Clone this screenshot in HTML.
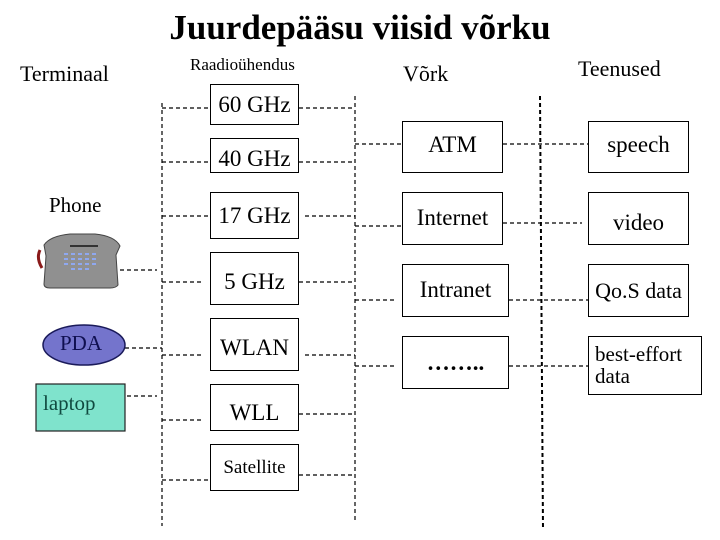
<!DOCTYPE html>
<html><head><meta charset="utf-8"><style>
body{margin:0;width:720px;height:540px;background:#fff;position:relative;overflow:hidden;font-family:"Liberation Serif",serif;color:#000}
.t{position:absolute;white-space:nowrap}
.b{position:absolute;border:1.5px solid #000;box-sizing:border-box;font-size:23px;display:flex;align-items:center;justify-content:center;background:#fff}
</style></head><body>
<svg width="720" height="540" style="position:absolute;left:0;top:0">
<g stroke="#000" stroke-width="1.2" stroke-dasharray="4,3" fill="none">
<line x1="162" y1="103" x2="162" y2="526"/>
<line x1="355" y1="96" x2="355" y2="522"/>
<line x1="540" y1="96" x2="543" y2="530" stroke-width="2"/>
<line x1="162" y1="108" x2="210" y2="108"/><line x1="299" y1="108" x2="355" y2="108"/>
<line x1="162" y1="162" x2="210" y2="162"/><line x1="299" y1="162" x2="355" y2="162"/>
<line x1="162" y1="216" x2="208" y2="216"/><line x1="305" y1="216" x2="355" y2="216"/>
<line x1="162" y1="282" x2="203" y2="282"/><line x1="299" y1="282" x2="355" y2="282"/>
<line x1="162" y1="355" x2="203" y2="355"/><line x1="305" y1="355" x2="355" y2="355"/>
<line x1="162" y1="420" x2="203" y2="420"/><line x1="299" y1="414" x2="355" y2="414"/>
<line x1="162" y1="480" x2="210" y2="480"/><line x1="299" y1="475" x2="355" y2="475"/>
<line x1="120" y1="270" x2="157" y2="270"/>
<line x1="125" y1="348" x2="162" y2="348"/>
<line x1="120" y1="396" x2="157" y2="396"/>
<line x1="355" y1="144" x2="402" y2="144"/><line x1="503" y1="144" x2="588" y2="144"/>
<line x1="355" y1="226" x2="402" y2="226"/><line x1="503" y1="223" x2="582" y2="223"/>
<line x1="355" y1="300" x2="395" y2="300"/><line x1="509" y1="300" x2="588" y2="300"/>
<line x1="355" y1="366" x2="395" y2="366"/><line x1="509" y1="366" x2="588" y2="366"/>
</g>
<path d="M40 250 Q36 258 42 268" stroke="#8a1a1a" stroke-width="3" fill="none"/>
<path d="M44 245 Q50 236 70 234 L95 234 Q115 236 120 246 L116 255 L118 285 Q116 288 110 288 L50 288 Q44 288 44 284 L46 256 Z" fill="#909090" stroke="#444" stroke-width="1"/>
<rect x="70" y="245" width="28" height="2" fill="#333"/>
<g fill="#8fa8f0">
<rect x="64" y="253" width="4" height="2"/><rect x="71" y="253" width="4" height="2"/><rect x="78" y="253" width="4" height="2"/><rect x="85" y="253" width="4" height="2"/><rect x="92" y="253" width="4" height="2"/>
<rect x="64" y="258" width="4" height="2"/><rect x="71" y="258" width="4" height="2"/><rect x="78" y="258" width="4" height="2"/><rect x="85" y="258" width="4" height="2"/><rect x="92" y="258" width="4" height="2"/>
<rect x="64" y="263" width="4" height="2"/><rect x="71" y="263" width="4" height="2"/><rect x="78" y="263" width="4" height="2"/><rect x="85" y="263" width="4" height="2"/><rect x="92" y="263" width="4" height="2"/>
<rect x="71" y="268" width="4" height="2"/><rect x="78" y="268" width="4" height="2"/><rect x="85" y="268" width="4" height="2"/>
</g>
<ellipse cx="84" cy="345" rx="41" ry="20" fill="#7474cc" stroke="#1a1a5a" stroke-width="1.5"/>
<rect x="36" y="384" width="89" height="47" fill="#7fe3cc" stroke="#222" stroke-width="1.2"/>
</svg>
<div class="t" style="left:0;width:720px;top:8px;text-align:center;font-size:35px;font-weight:bold">Juurdepääsu viisid võrku</div>
<div class="t" style="left:20px;top:61px;font-size:22px">Terminaal</div>
<div class="t" style="left:190px;top:55px;font-size:17px">Raadioühendus</div>
<div class="t" style="left:403px;top:61px;font-size:22px">Võrk</div>
<div class="t" style="left:578px;top:56px;font-size:22px">Teenused</div>
<div class="t" style="left:49px;top:193px;font-size:21px">Phone</div>
<div class="t" style="left:60px;top:331px;font-size:21px;color:#101050">PDA</div>
<div class="t" style="left:43px;top:391px;font-size:21px;color:#104a40">laptop</div>
<div class="b" style="left:210px;top:84px;width:89px;height:41px">60 GHz</div>
<div class="b" style="left:210px;top:138px;width:89px;height:35px;align-items:flex-end">40 GHz</div>
<div class="b" style="left:210px;top:192px;width:89px;height:47px">17 GHz</div>
<div class="b" style="left:210px;top:252px;width:89px;height:53px;align-items:flex-start;padding-top:16px">5 GHz</div>
<div class="b" style="left:210px;top:318px;width:89px;height:53px;align-items:flex-start;padding-top:16px">WLAN</div>
<div class="b" style="left:210px;top:384px;width:89px;height:47px;align-items:flex-end;padding-bottom:4px">WLL</div>
<div class="b" style="left:210px;top:444px;width:89px;height:47px;font-size:19px">Satellite</div>
<div class="b" style="left:402px;top:121px;width:101px;height:52px;align-items:flex-start;padding-top:10px">ATM</div>
<div class="b" style="left:402px;top:192px;width:101px;height:53px;align-items:flex-start;padding-top:12px">Internet</div>
<div class="b" style="left:402px;top:264px;width:107px;height:53px;align-items:flex-start;padding-top:12px">Intranet</div>
<div class="b" style="left:402px;top:336px;width:107px;height:53px;font-weight:bold">……..</div>
<div class="b" style="left:588px;top:121px;width:101px;height:52px;align-items:flex-start;padding-top:10px">speech</div>
<div class="b" style="left:588px;top:192px;width:101px;height:53px;align-items:flex-end;padding-bottom:8px">video</div>
<div class="b" style="left:588px;top:264px;width:101px;height:53px;font-size:22px">Qo.S data</div>
<div class="b" style="left:588px;top:336px;width:114px;height:59px;font-size:21px;line-height:22px;padding-left:6px;display:block;padding-top:6px">best-effort<br>data</div>
</body></html>
